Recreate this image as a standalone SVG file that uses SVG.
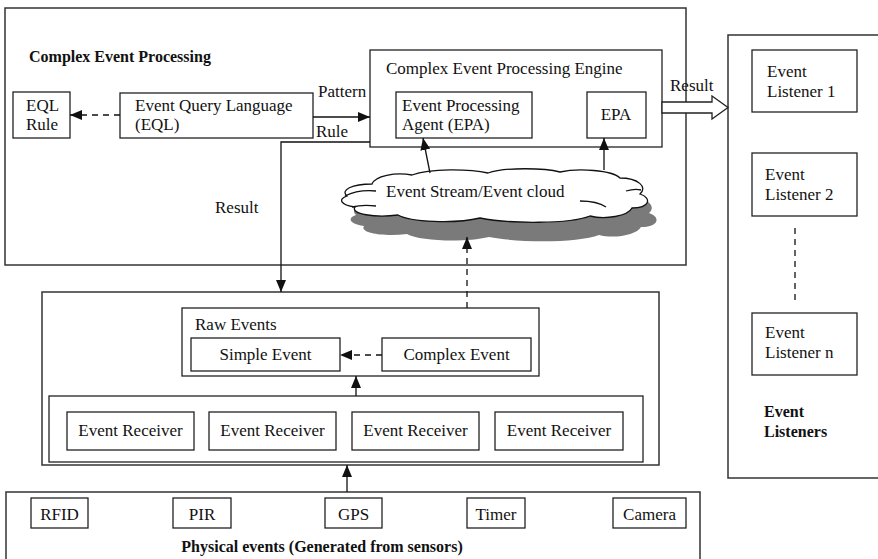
<svg xmlns="http://www.w3.org/2000/svg" width="878" height="559" viewBox="0 0 878 559">
<defs>
<marker id="ah" viewBox="0 0 12 10" refX="12" refY="5" markerWidth="12" markerHeight="10" orient="auto" markerUnits="userSpaceOnUse"><path d="M0,0 L12,5 L0,10 Z" fill="#111"/></marker>
<path id="cloudShape" d="M347,196 C340,190 352,184 372,184 C375,176 395,172 412,175 C430,168 470,169 488,173 C505,167 545,168 560,172 C578,168 612,170 620,178 C638,178 648,187 640,194 C652,198 650,208 632,208 C628,216 605,220 590,216 C570,224 510,224 480,218 C455,224 410,222 398,215 C375,218 350,214 355,207 C340,205 338,199 347,196 Z"/>
</defs>
<style>
text{font-family:"Liberation Serif","Times New Roman",serif;font-size:17px;fill:#111}
.b{font-weight:bold;font-size:16px}
.box{fill:none;stroke:#222;stroke-width:1.3}
.outer{fill:none;stroke:#333;stroke-width:1.5}
.ln{fill:none;stroke:#111;stroke-width:1.3}
.dash{stroke-dasharray:6,5}
.c{text-anchor:middle}
</style>
<rect width="878" height="559" fill="#fff"/>

<g id="cep">
<rect class="outer" x="5" y="8" width="681" height="257"/>
<text class="b" x="29" y="62">Complex Event Processing</text>
</g>
<g id="eql-rule"><rect class="box" x="13" y="92" width="57" height="46"/><text x="26" y="111">EQL</text><text x="26" y="130">Rule</text></g>
<g id="eql"><rect class="box" x="120" y="93" width="193" height="45"/><text x="135" y="111">Event Query Language</text><text x="135" y="130">(EQL)</text></g>
<g id="engine"><rect class="box" x="370" y="50" width="292" height="97"/><text x="386" y="74">Complex Event Processing Engine</text></g>
<g id="epa1"><rect class="box" x="396" y="92" width="136" height="46"/><text x="402" y="111">Event Processing</text><text x="402" y="130">Agent (EPA)</text></g>
<g id="epa2"><rect class="box" x="587" y="92" width="59" height="46"/><text class="c" x="616" y="120">EPA</text></g>
<g id="cloud">
<use href="#cloudShape" transform="translate(9,19)" fill="#7a7a7a"/>
<use href="#cloudShape" fill="#fff" stroke="#111" stroke-width="1.3"/>
<path class="ln" d="M345,196 C355,191 366,190 376,191 M352,207 C360,205 368,205 376,206 M626,191 C633,189 637,189 641,190 M580,201 C592,201 600,203 606,207"/>
<text x="386" y="197">Event Stream/Event cloud</text>
</g>

<g id="listeners">
<rect class="outer" x="728" y="35" width="152" height="443"/>
<text class="b" x="764" y="417">Event</text><text class="b" x="764" y="437">Listeners</text>
</g>
<g id="listener1"><rect class="box" x="752" y="50" width="105" height="62"/><text x="767" y="77">Event</text><text x="767" y="97">Listener 1</text></g>
<g id="listener2"><rect class="box" x="752" y="153" width="105" height="63"/><text x="765" y="180">Event</text><text x="765" y="200">Listener 2</text></g>
<g id="listenern"><rect class="box" x="752" y="313" width="105" height="62"/><text x="765" y="338">Event</text><text x="765" y="358">Listener n</text></g>

<g id="middle"><rect class="outer" x="42" y="292" width="617" height="173"/></g>
<g id="raw"><rect class="box" x="182" y="308" width="357" height="68"/><text x="195" y="330">Raw Events</text></g>
<g id="simple"><rect class="box" x="191" y="338" width="149" height="33"/><text class="c" x="265.5" y="360">Simple Event</text></g>
<g id="complex"><rect class="box" x="382" y="338" width="149" height="33"/><text class="c" x="456.5" y="360">Complex Event</text></g>
<g id="receivers"><rect class="box" x="49" y="396" width="594" height="66"/></g>
<g id="rx1"><rect class="box" x="67" y="412" width="127" height="38"/><text class="c" x="130.5" y="436">Event Receiver</text></g>
<g id="rx2"><rect class="box" x="209" y="412" width="127" height="38"/><text class="c" x="272.5" y="436">Event Receiver</text></g>
<g id="rx3"><rect class="box" x="352" y="412" width="127" height="38"/><text class="c" x="415.5" y="436">Event Receiver</text></g>
<g id="rx4"><rect class="box" x="495" y="412" width="128" height="38"/><text class="c" x="559" y="436">Event Receiver</text></g>

<g id="physical"><rect class="outer" x="6" y="492" width="694" height="75"/><text class="b c" x="322" y="552">Physical events (Generated from sensors)</text></g>
<g id="rfid"><rect class="box" x="31" y="498" width="57" height="30"/><text class="c" x="59.5" y="520">RFID</text></g>
<g id="pir"><rect class="box" x="173" y="498" width="58" height="30"/><text class="c" x="202" y="520">PIR</text></g>
<g id="gps"><rect class="box" x="325" y="498" width="57" height="30"/><text class="c" x="353.5" y="520">GPS</text></g>
<g id="timer"><rect class="box" x="467" y="498" width="58" height="30"/><text class="c" x="496" y="520">Timer</text></g>
<g id="camera"><rect class="box" x="613" y="498" width="73" height="30"/><text class="c" x="649.5" y="520">Camera</text></g>

<g id="connectors">
<line class="ln dash" x1="120" y1="115" x2="70" y2="115" marker-end="url(#ah)"/>
<line class="ln" x1="313" y1="117" x2="370" y2="117" marker-end="url(#ah)"/>
<text x="318" y="97">Pattern</text>
<text x="316" y="137">Rule</text>
<path class="ln" d="M370,142 H281 V292" marker-end="url(#ah)"/>
<text x="215" y="213">Result</text>
<line class="ln" x1="430" y1="173" x2="423" y2="138" marker-end="url(#ah)"/>
<line class="ln" x1="604" y1="170" x2="604" y2="138" marker-end="url(#ah)"/>
<line class="ln dash" x1="467" y1="308" x2="467" y2="237" marker-end="url(#ah)"/>
<line class="ln dash" x1="382" y1="355" x2="340" y2="355" marker-end="url(#ah)"/>
<line class="ln" x1="356" y1="396" x2="356" y2="376" marker-end="url(#ah)"/>
<line class="ln" x1="347" y1="492" x2="347" y2="465" marker-end="url(#ah)"/>
<polygon points="662,102 712,102 712,96 728,107.5 712,119 712,113 662,113" fill="#fff" stroke="#222" stroke-width="1.3"/>
<text x="670" y="91">Result</text>
<line class="ln dash" x1="795" y1="228" x2="795" y2="305"/>
</g>
</svg>
